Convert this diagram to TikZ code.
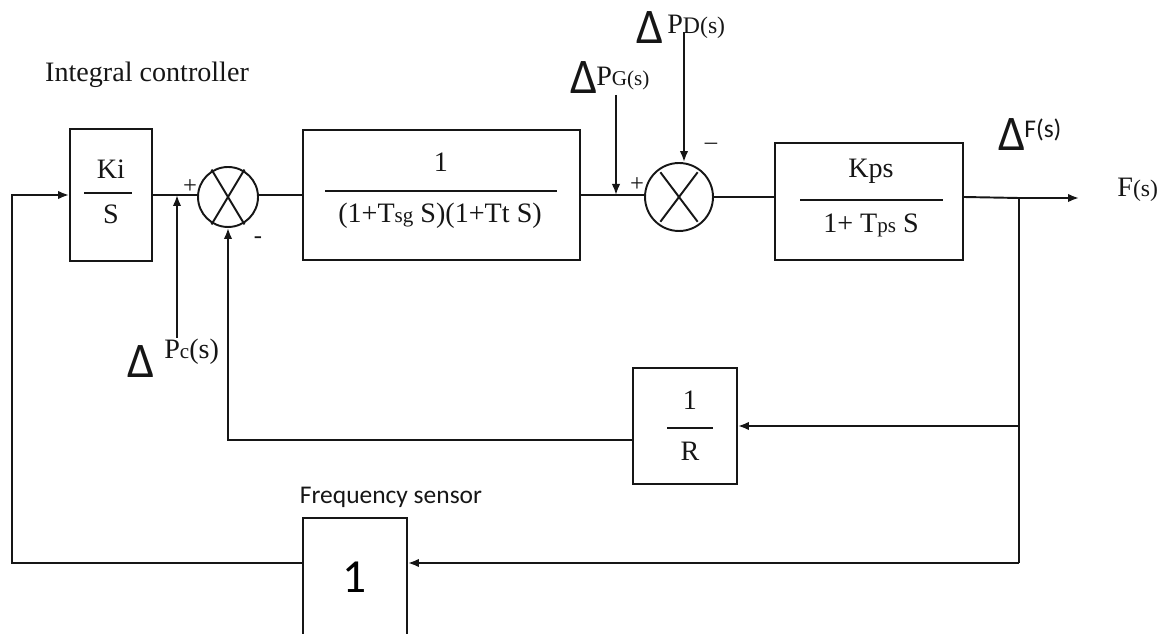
\documentclass[tikz,border=0pt]{standalone}
\usepackage{fontspec}
\setmainfont{Liberation Serif}
\newfontfamily\sensorfont{Carlito}
\usetikzlibrary{positioning, arrows.meta, calc}
\definecolor{ink}{RGB}{22,22,22}
\newcommand{\dlt}{{\sensorfont\fontsize{21}{24}\selectfont\scalebox{1.3}[1.35]{Δ}}}
\newcommand{\smallsub}[1]{{\fontsize{12}{14}\selectfont #1}}
\tikzset{
  block/.style   ={rectangle, draw=ink, line width=1.1pt, inner sep=0pt},
  sumjunc/.style ={circle, draw=ink, line width=1.1pt, inner sep=0pt},
  wire/.style    ={line width=1.1pt, color=ink},
  sig/.style     ={-{Latex[length=2.2mm, width=1.7mm]}, line width=1.1pt, color=ink},
  fracbar/.style ={line width=1.1pt, color=ink},
  lbl/.style     ={font=\fontsize{16}{19}\selectfont, inner sep=0pt, text=ink},
  sanslbl/.style ={font=\sensorfont\fontsize{14.5}{17}\selectfont, inner sep=0pt, text=ink},
  signlbl/.style ={font=\fontsize{14}{16}\selectfont, inner sep=0pt, text=ink},
}
\begin{document}
\begin{tikzpicture}[x=0.02cm, y=-0.02cm, every node/.style={font=\fontsize{16}{19}\selectfont}]
\useasboundingbox (0,0) rectangle (1169,634);

% blocks
\node[block, minimum width=1.64cm, minimum height=2.64cm] (ki) at (111,195) {};
\node[lbl] (kinum) at (111,169) {Ki};
\node[lbl] (kiden) at (111,214) {S};
\draw[fracbar] (84,193) -- (132,193);

\node[block, minimum width=5.54cm, minimum height=2.6cm] (gov) at (441.5,195) {};
\node[lbl] (govnum) at (441,162) {1};
\node[lbl] (govden) at (440,216) {(1+T\smallsub{sg} S)(1+Tt S)};
\draw[fracbar] (325,191) -- (557,191);

\node[block, minimum width=3.76cm, minimum height=2.34cm] (pwr) at (869,201.5) {};
\node[lbl] (pwrnum) at (871,171) {Kps};
\node[lbl] (pwrden) at (871,225) {1+ T\smallsub{ps} S};
\draw[fracbar] (800,200) -- (943,200);

\node[block, minimum width=2.08cm, minimum height=2.32cm] (droop) at (685,426) {};
\node[lbl] (droopnum) at (690,400) {1};
\node[lbl] (droopden) at (690,451) {R};
\draw[fracbar] (667,428) -- (713,428);

\node[block, minimum width=2.08cm, minimum height=2.4cm] (sensor) at (355,578) {};
\node[font=\sensorfont\fontsize{27}{30}\selectfont, inner sep=0pt] (sensornum) at (355,577) {1};

% summing points
\node[sumjunc, minimum size=1.2cm] (sum1) at (228,197) {};
\node[sumjunc, minimum size=1.36cm] (sum2) at (679,197) {};
\draw[wire] ($(sum1.center)+(121:32)$) -- ($(sum1.center)+(-59:32)$);
\draw[wire] ($(sum1.center)+(59:32)$) -- ($(sum1.center)+(-121:32)$);
\draw[wire] ($(sum2.center)+(127:31)$) -- ($(sum2.center)+(-53:31)$);
\draw[wire] ($(sum2.center)+(53:31)$) -- ($(sum2.center)+(-127:31)$);

\node[signlbl] (sum1plus) at (190,187) {+};
\node[signlbl] (sum1minus) at (258,240) {-};
\node[signlbl] (sum2plus) at (637,185) {+};
\node[signlbl] (sum2minus) at (711,146) {–};

% labels
\node[lbl] (intlbl) at (147,75) {Integral controller};
\node[sanslbl] (senslbl) at (391,497) {Frequency sensor};
\node[lbl] (pcdlt) at (141,362) {\dlt};
\node[lbl, anchor=west] (pctxt) at (164,352) {P\smallsub{c}(s)};
\node[lbl] (pgdlt) at (584,78) {\dlt};
\node[lbl, anchor=west] (pgtxt) at (596,79) {P\smallsub{G(s)}};
\node[lbl] (pddlt) at (650,28) {\dlt};
\node[lbl, anchor=west] (pdtxt) at (667,27) {P{\fontsize{13.5}{15}\selectfont D(s)}};
\node[lbl] (dfdlt) at (1012,135) {\dlt};
\node[sanslbl, anchor=west] (dftxt) at (1024,130) {F(s)};
\node[lbl, anchor=west] (fout) at (1117,190) {F{\fontsize{13.5}{15}\selectfont(s)}};

% coordinates
\coordinate (pc) at (177,338);
\coordinate (pg) at (616,95);
\coordinate (pd) at (684,32);
\coordinate (brk) at (1019,198);
\coordinate (ftip) at (1079,198);
\coordinate (lft) at (12,563);
\coordinate (sensin) at ([yshift=0.3cm]sensor.east);
\coordinate (sensout) at ([yshift=0.3cm]sensor.west);
\coordinate (droopout) at ([yshift=-0.28cm]droop.west);

% forward path
\draw[wire] (ki.east) -- (ki.east -| sum1.west);
\draw[wire] (sum1.east |- gov.west) -- (gov.west);
\draw[wire] (gov.east) -- (gov.east -| sum2.west);
\draw[wire] (sum2.east) -- (sum2.east -| pwr.west);
\draw[wire] (sum2.east -| pwr.east) -- (brk);
\draw[sig] (brk) -- (ftip);

% inputs
\draw[sig] (pc) -- (pc |- ki.east);
\draw[sig] (pg) -- (pg |- gov.east);
\draw[sig] (pd) -- (pd |- sum2.north);

% feedback loops
\draw[wire] (brk) -- (brk |- sensin);
\draw[sig] (brk |- droop.east) -- (droop.east);
\draw[sig] (droopout) -| (sum1.south);
\draw[sig] (brk |- sensin) -- (sensin);
\draw[sig] (sensout) -- (lft) |- (ki.west);
\end{tikzpicture}
\end{document}
